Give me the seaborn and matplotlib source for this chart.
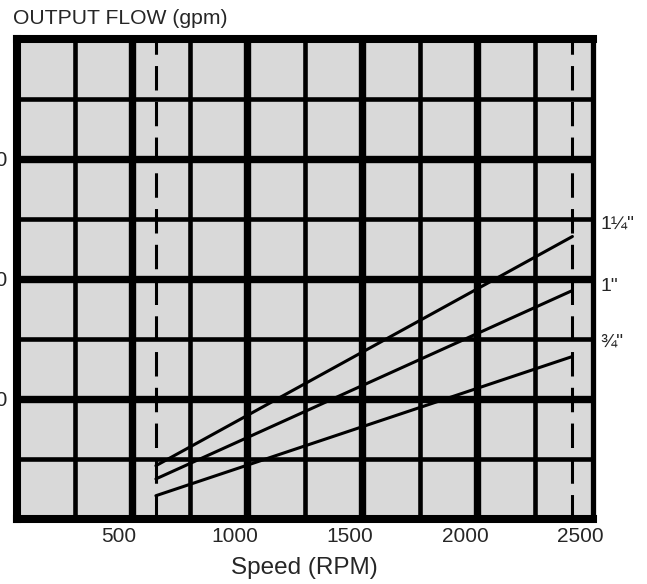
import matplotlib
matplotlib.use("Agg")
import matplotlib.pyplot as plt
import seaborn as sns
import pandas as pd

sns.set_style("white")
plt.rcParams["font.family"] = ["Liberation Sans", "DejaVu Sans"]

# speed range of the curves (RPM), also where the dashed limits sit
speed_rpm = [660, 2465]
sizes = ['¾"', '1"', '1¼"']
flow_34 = [1.9, 13.5]
flow_1 = [3.3, 19.0]
flow_114 = [4.4, 23.5]

x_ticks = [500, 1000, 1500, 2000, 2500]
y_ticks = [10, 20, 30]
y_tick_labels = ["10", "20", "30"]

df = pd.DataFrame({
    "speed": speed_rpm * 3,
    "flow": flow_34 + flow_1 + flow_114,
    "size": [s for s in sizes for _ in speed_rpm],
})

fig = plt.figure(figsize=(6.47, 5.84), dpi=100)
pos = [17 / 647, 1 - 518.5 / 584, (592.5 - 17) / 647, (518.5 - 38.5) / 584]

# graph-paper background: 10 x 8 cells, heavy line every second cell
paper = fig.add_axes(pos)
paper.set_facecolor("#d9d9d9")
paper.set_xlim(0, 10)
paper.set_ylim(0, 8)
paper.set_xticks([2, 4, 6, 8])
paper.set_xticks([1, 3, 5, 7, 9], minor=True)
paper.set_yticks([2, 4, 6])
paper.set_yticks([1, 3, 5, 7], minor=True)
paper.grid(which="major", color="black", lw=5.3)
paper.grid(which="minor", color="black", lw=3.3)
paper.tick_params(which="both", length=0, labelbottom=False, labelleft=False)
for s in paper.spines.values():
    s.set_visible(False)

ax = fig.add_axes(pos)
ax.patch.set_alpha(0)
sns.lineplot(data=df, x="speed", y="flow", hue="size",
             palette={s: "black" for s in sizes}, lw=2.2, legend=False, ax=ax)
for rpm in speed_rpm:
    ax.axvline(rpm, color="black", lw=2.2, dashes=(8, 3.7))

ax.set_xlim(58, 2552)
ax.set_ylim(0, 40)
ax.set_xticks(x_ticks)
ax.set_yticks(y_ticks)
ax.set_yticklabels(y_tick_labels)
ax.tick_params(axis="x", length=0, pad=6, labelsize=15)
ax.tick_params(axis="y", length=0, pad=7, labelsize=15)
ax.set_xlabel("Speed (RPM)", fontsize=17.5, labelpad=8)
ax.set_ylabel("")
for side in ["left", "top", "bottom"]:
    ax.spines[side].set_linewidth(5.8)
    ax.spines[side].set_color("black")
ax.spines["right"].set_linewidth(3.8)
ax.spines["right"].set_color("black")

# size labels just outside the right edge
ends = [flow_34[-1], flow_1[-1], flow_114[-1]]
nudge = {'¾"': 10, '1"': 3, '1¼"': 8.6}
for s, y_end in zip(sizes, ends):
    ax.annotate(s, xy=(1, y_end), xycoords=("axes fraction", "data"),
                xytext=(5.4, nudge[s]), textcoords="offset points",
                ha="left", va="center", fontsize=14, annotation_clip=False)

fig.text(13 / 647, 1 - 18.5 / 584, "OUTPUT FLOW (gpm)", fontsize=15.2,
         ha="left", va="center")

fig.savefig("out.png", dpi=100)
